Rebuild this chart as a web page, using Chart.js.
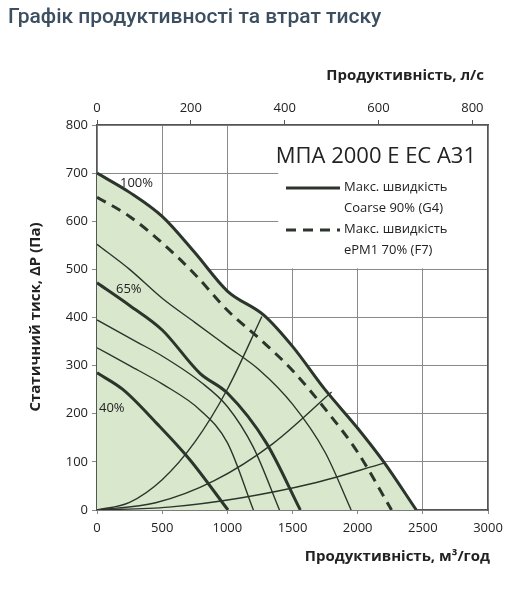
<!DOCTYPE html>
<html>
<head>
<meta charset="utf-8">
<script src="https://cdn.jsdelivr.net/npm/chart.js@4.4.1/dist/chart.umd.min.js"></script>
<style>
  body { margin: 0; width: 525px; height: 589px; background: #fff; overflow: hidden; }
  #title { position: absolute; left: 8px; top: 4px; font: 500 21px Roboto, sans-serif; color: #3b4f60; }
  #wrap { position: absolute; left: 0; top: 0; width: 525px; height: 589px; }
</style>
</head>
<body>
<div id="wrap"><canvas id="c"></canvas></div>
<div id="title">Графік продуктивності та втрат тиску</div>
<script>
// Flow, m3/h and static pressure, Pa
const max100X = [0, 250, 500, 750, 1000, 1280, 1500, 1750, 2000, 2200, 2450];
const max100Y = [700, 660, 610, 535, 455, 405, 340, 250, 170, 100, 0];
const f7X = [0, 250, 500, 750, 1000, 1250, 1500, 1750, 2000, 2260];
const f7Y = [650, 610, 555, 490, 415, 355, 290, 210, 120, 0];
const thin555X = [0, 250, 500, 750, 1000, 1250, 1500, 1750, 1950];
const thin555Y = [552, 500, 440, 390, 340, 290, 220, 120, 0];
const s65X = [0, 250, 500, 790, 1000, 1300, 1560];
const s65Y = [472, 425, 374, 284, 243, 139, 0];
const thin400X = [0, 300, 500, 800, 1000, 1200, 1400];
const thin400Y = [395, 350, 320, 265, 215, 130, 0];
const thin340X = [0, 250, 500, 790, 1000, 1200];
const thin340Y = [337, 300, 262, 208, 140, 0];
const s40X = [0, 200, 458, 714, 1005];
const s40Y = [285, 250, 180, 104, 0];
// system curves
const sysAX = [0, 250, 500, 750, 1000, 1265];
const sysAY = [0, 16, 63, 141, 251, 402];
const sysBX = [0, 450, 900, 1350, 1800];
const sysBY = [0, 15, 61, 138, 245];
const sysCX = [0, 550, 1100, 1650, 2210];
const sysCY = [0, 6, 25, 55, 98];

const yTicks = [0, 100, 200, 300, 400, 500, 600, 700, 800];
const xTicks = [0, 500, 1000, 1500, 2000, 2500, 3000];
const lsTicks = [0, 200, 400, 600, 800];

const pts = (xs, ys) => xs.map((x, i) => ({ x, y: ys[i] }));
const ink = '#2b352b';

function curve(xs, ys, width, extra) {
  return Object.assign({
    data: pts(xs, ys), borderColor: ink, borderWidth: width, pointRadius: 0,
    cubicInterpolationMode: 'monotone', fill: false
  }, extra || {});
}

const overlay = {
  id: 'overlay',
  beforeDatasetsDraw(chart) {
    const { ctx, scales: { x, y } } = chart;
    // white box hiding the grid behind the legend
    ctx.save();
    ctx.fillStyle = '#fff';
    const l = x.getPixelForValue(1390), t = chart.chartArea.top + 1;
    ctx.fillRect(l, t, chart.chartArea.right - l - 1, y.getPixelForValue(500) - t - 1);
    ctx.restore();
  },
  afterDraw(chart) {
    const { ctx, chartArea: a } = chart;
    ctx.save();
    ctx.fillStyle = '#222';
    ctx.font = '22px "Open Sans", sans-serif';
    ctx.textAlign = 'right';
    ctx.textBaseline = 'middle';
    ctx.fillText('МПА 2000 Е ЕС А31', a.right - 12, 157);
    ctx.textAlign = 'left';
    ctx.font = '13px "Open Sans", sans-serif';
    ctx.fillText('Макс. швидкість', 344, 187);
    ctx.fillText('Coarse 90% (G4)', 344, 208);
    ctx.fillText('Макс. швидкість', 344, 229);
    ctx.fillText('ePM1 70% (F7)', 344, 250);
    ctx.fillText('100%', 120, 183);
    ctx.fillText('65%', 116, 289);
    ctx.fillText('40%', 99, 408);
    ctx.strokeStyle = ink;
    ctx.lineWidth = 3;
    ctx.beginPath(); ctx.moveTo(286, 188); ctx.lineTo(340, 188); ctx.stroke();
    ctx.setLineDash([10, 7]);
    ctx.beginPath(); ctx.moveTo(286, 230); ctx.lineTo(340, 230); ctx.stroke();
    ctx.setLineDash([]);
    // axis titles
    ctx.font = 'bold 15px "Open Sans", sans-serif';
    ctx.textAlign = 'right';
    ctx.fillText('Продуктивність, л/с', 484, 76);
    ctx.fillText('Продуктивність, м³/год', 490, 557);
    ctx.translate(36, 317);
    ctx.rotate(-Math.PI / 2);
    ctx.textAlign = 'center';
    ctx.fillText('Статичний тиск, ΔP (Па)', 0, 0);
    ctx.restore();
  }
};

const tickFont = { family: '"Open Sans", sans-serif', size: 13 };
const plain = v => String(v);

new Chart(document.getElementById('c'), {
  type: 'line',
  data: {
    datasets: [
      curve(max100X, max100Y, 3, { fill: 'origin', backgroundColor: '#d9e8cd' }),
      curve(f7X, f7Y, 3, { borderDash: [10, 7] }),
      curve(thin555X, thin555Y, 1.4),
      curve(s65X, s65Y, 3),
      curve(thin400X, thin400Y, 1.4),
      curve(thin340X, thin340Y, 1.4),
      curve(s40X, s40Y, 3),
      curve(sysAX, sysAY, 1.4),
      curve(sysBX, sysBY, 1.4),
      curve(sysCX, sysCY, 1.4)
    ]
  },
  options: {
    responsive: true, maintainAspectRatio: false, animation: false,
    layout: { padding: { left: 0, right: 37, top: 0, bottom: 0 } },
    plugins: { legend: { display: false }, tooltip: { enabled: false }, filler: { drawTime: 'beforeDatasetsDraw' } },
    scales: {
      x: {
        type: 'linear', min: 0, max: 3000, position: 'bottom',
        afterBuildTicks: s => { s.ticks = xTicks.map(v => ({ value: v })); },
        afterFit: s => { s.height = 79; },
        grid: { color: '#8a8a8a', lineWidth: 1, tickLength: 4 },
        border: { color: '#555', width: 1.2 },
        ticks: { color: '#222', font: tickFont, padding: 6, callback: plain }
      },
      x2: {
        type: 'linear', min: 0, max: 3000 / 3.6, position: 'top',
        afterBuildTicks: s => { s.ticks = lsTicks.map(v => ({ value: v })); },
        afterFit: s => { s.height = 125; },
        grid: { drawOnChartArea: false, color: '#555', tickLength: 5 },
        border: { color: '#555', width: 1.2 },
        ticks: { color: '#222', font: tickFont, padding: 4, callback: plain }
      },
      y: {
        type: 'linear', min: 0, max: 800,
        afterBuildTicks: s => { s.ticks = yTicks.map(v => ({ value: v })); },
        afterFit: s => { s.width = 97; },
        grid: { color: '#8a8a8a', lineWidth: 1, tickLength: 5 },
        border: { color: '#555', width: 1.2 },
        ticks: { color: '#222', font: tickFont, padding: 4, callback: plain }
      },
      y2: {
        type: 'linear', min: 0, max: 800, position: 'right',
        afterFit: s => { s.width = 0; },
        grid: { drawOnChartArea: false, display: false },
        border: { color: '#555', width: 1.2 },
        ticks: { display: false }
      }
    }
  },
  plugins: [overlay]
});
</script>
</body>
</html>
